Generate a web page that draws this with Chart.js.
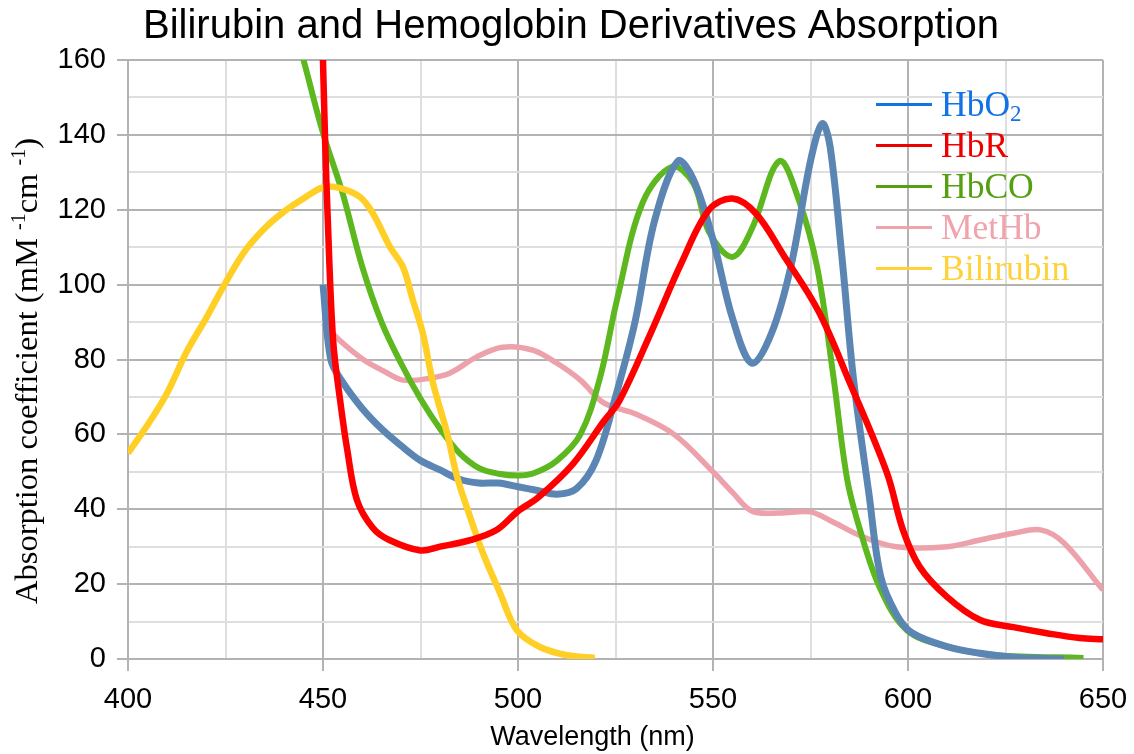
<!DOCTYPE html>
<html>
<head>
<meta charset="utf-8">
<script src="https://cdn.jsdelivr.net/npm/chart.js@4.4.1/dist/chart.umd.min.js"></script>
<style>
  html, body { margin: 0; padding: 0; background: #ffffff; }
  #wrap { position: relative; width: 1134px; height: 754px; }
  #legend { position: absolute; left: 876px; top: 84px; font-family: "Liberation Serif", "Times New Roman", serif; font-size: 35.5px; line-height: 41px; }
  #legend .row { display: flex; align-items: center; height: 41px; white-space: nowrap; }
  #legend .ln { width: 56px; height: 3px; margin-right: 9px; flex: none; }
  #legend sub { font-size: 23px; vertical-align: -5px; line-height: 0; }
</style>
</head>
<body>
<div id="wrap">
  <canvas id="c" width="1134" height="754"></canvas>
  <div id="legend">
    <div class="row" style="color:#1273e6"><span class="ln" style="background:#1273e6"></span><span>HbO<sub>2</sub></span></div>
    <div class="row" style="color:#ee0000"><span class="ln" style="background:#ee0000"></span><span>HbR</span></div>
    <div class="row" style="color:#55a011"><span class="ln" style="background:#55a011"></span><span>HbCO</span></div>
    <div class="row" style="color:#f0a3ac"><span class="ln" style="background:#f0a3ac"></span><span>MetHb</span></div>
    <div class="row" style="color:#ffd23a"><span class="ln" style="background:#ffd23a"></span><span>Bilirubin</span></div>
  </div>
</div>
<script>
// ---- Data (wavelength in nm, absorption coefficient in mM^-1 cm^-1) ----
const hbo2Wl  = [450, 452, 455, 460, 465, 470, 475, 480, 485, 490, 495, 500, 505, 510, 515, 520, 525, 530, 535, 541, 545, 550, 555, 560, 565, 570, 575, 578, 580, 583, 586, 590, 593, 597, 601, 610, 618, 627, 640];
const hbo2Abs = [100, 80, 74, 67, 61.5, 57, 53, 50.5, 48, 47, 47, 46, 45, 44, 45.5, 53, 70, 90, 117, 133, 128, 112, 91, 79, 87, 105, 133, 143, 137, 108, 75, 44, 22, 12, 7, 3.3, 1.6, 0.5, 0];

const hbrWl  = [449.8, 450.5, 451.2, 452.6, 454.4, 456.2, 458.7, 462.8, 467, 475, 480, 488, 494.6, 500, 505, 514, 522, 526, 534, 542, 549, 555, 561, 568, 577, 585, 594.6, 598.7, 603, 610, 618.5, 627, 635.6, 644, 650];
const hbrAbs = [168, 140, 118, 85, 69, 56, 42.5, 35, 31.8, 29, 30, 31.8, 34.5, 39.5, 43, 52, 63.5, 69, 87, 106, 120, 123, 119, 108, 93, 74, 49.7, 34.5, 24.6, 16.6, 10.4, 8.5, 6.9, 5.6, 5.3];

const hbcoWl  = [443, 445, 450, 455, 460, 465, 470, 475, 480, 485, 490, 495, 500, 504, 510, 516, 521, 525.4, 532, 539.5, 545, 549, 555, 560, 567, 572, 576.7, 580.8, 584.4, 587.7, 592.8, 599.7, 610, 622.8, 645];
const hbcoAbs = [167, 160, 140.5, 124.5, 105, 90, 79, 69.5, 61.5, 55, 51, 49.5, 49, 49.6, 53, 60, 75, 96, 122, 131.5, 127, 114, 107.4, 115, 133, 122.6, 104.7, 76, 48, 34.5, 19, 7.7, 3.3, 1, 0.3];

const methbWl  = [450, 454.4, 460.3, 465.4, 470.5, 477.4, 482.6, 489.4, 496, 503.8, 510, 516, 522, 530, 540, 550, 555, 560, 567, 575, 580, 588.5, 597, 610, 618.5, 627, 634, 640, 650];
const methbAbs = [89.7, 85, 80, 77, 74.5, 75, 76.4, 80.7, 83.3, 82.5, 79, 74.5, 68.4, 65.5, 60, 50, 44.5, 39.5, 39, 39.3, 37, 32.6, 30, 30, 31.8, 33.6, 34.5, 31, 18.4];

const biliWl  = [400, 405, 410, 415, 420, 425, 430, 435, 440, 445, 450, 454.4, 459.5, 462.8, 467.2, 470.5, 473, 475.6, 478.2, 481.8, 484.4, 487.7, 491, 495.4, 499.7, 505.6, 512.6, 519.7];
const biliAbs = [55, 62.5, 71, 82, 91, 100.5, 109, 115, 119.5, 123, 126, 125.8, 123.4, 119, 110, 104.7, 96, 87, 73.7, 60.4, 48.6, 38, 28.3, 17.6, 7.7, 3.2, 1, 0.3];

const xTickLabels = [400, 450, 500, 550, 600, 650];
const yTickLabels = [0, 20, 40, 60, 80, 100, 120, 140, 160];

const chartTitle = 'Bilirubin and Hemoglobin Derivatives Absorption';
const xTitle = 'Wavelength (nm)';
const yTitleParts = [
  { t: 'Absorption coefficient (mM ', sup: false },
  { t: '-1', sup: true },
  { t: 'cm ', sup: false },
  { t: '-1', sup: true },
  { t: ')', sup: false }
];

const toPts = (xs, ys) => xs.map((x, i) => ({ x: x, y: ys[i] }));

const mk = (label, xs, ys, color, w) => ({
  label: label,
  data: toPts(xs, ys),
  borderColor: color,
  backgroundColor: color,
  borderWidth: w,
  pointRadius: 0,
  fill: false,
  tension: 0.35,
  borderCapStyle: 'butt',
  borderJoinStyle: 'round'
});

// first dataset is drawn on top
const datasets = [
  mk('HbR', hbrWl, hbrAbs, '#ff0000', 6.5),
  mk('Bilirubin', biliWl, biliAbs, '#ffcf26', 6.5),
  mk('HbO2', hbo2Wl, hbo2Abs, '#5b86b4', 7),
  mk('HbCO', hbcoWl, hbcoAbs, '#5db71e', 6),
  mk('MetHb', methbWl, methbAbs, '#eca1ab', 5.5)
];

const MAJOR = '#b3b3b3', MINOR = '#dedede';

let yTitlePartsWidths = [];
const textPlugin = {
  id: 'texts',
  afterDraw(chart) {
    const ctx = chart.ctx;
    const a = chart.chartArea;
    ctx.save();
    ctx.fillStyle = '#000';
    // chart title
    ctx.font = '40px "Liberation Sans", Arial, sans-serif';
    ctx.textAlign = 'center';
    ctx.textBaseline = 'alphabetic';
    ctx.fillText(chartTitle, 571, 38);
    // x axis title
    ctx.font = '27px "Liberation Sans", Arial, sans-serif';
    ctx.fillText(xTitle, (a.left + a.right) / 2 - 23, 745);
    // y axis title (rotated, with superscripts)
    const mainF = '32.5px "Liberation Serif", "Times New Roman", serif';
    const supF = '20px "Liberation Serif", "Times New Roman", serif';
    let total = 0;
    yTitlePartsWidths = yTitleParts.map(p => {
      ctx.font = p.sup ? supF : mainF;
      const w = ctx.measureText(p.t).width;
      total += w;
      return w;
    });
    ctx.translate(37, 371);
    ctx.rotate(-Math.PI / 2);
    ctx.textAlign = 'left';
    let x = -total / 2;
    yTitleParts.forEach((p, i) => {
      ctx.font = p.sup ? supF : mainF;
      ctx.fillText(p.t, x, p.sup ? -12 : 0);
      x += yTitlePartsWidths[i];
    });
    ctx.restore();
  }
};

new Chart(document.getElementById('c'), {
  type: 'line',
  data: { datasets: datasets },
  plugins: [textPlugin],
  options: {
    responsive: false,
    animation: false,
    devicePixelRatio: 1,
    layout: { padding: { left: 0, right: 31, top: 60, bottom: 0 } },
    plugins: {
      legend: { display: false },
      tooltip: { enabled: false },
      title: { display: false }
    },
    scales: {
      x: {
        type: 'linear',
        min: 400, max: 650,
        afterFit(scale) { scale.height = 95; scale.paddingLeft = 0; scale.paddingRight = 0; },
        afterBuildTicks(scale) {
          const t = [];
          for (let v = 400; v <= 650; v += 25) t.push({ value: v });
          scale.ticks = t;
        },
        ticks: {
          autoSkip: false,
          maxRotation: 0,
          color: '#000',
          padding: 12,
          font: { family: '"Liberation Sans", Arial, sans-serif', size: 29 },
          callback: (v) => xTickLabels.includes(v) ? String(v) : ''
        },
        grid: {
          color: (c) => (c.tick && c.tick.value % 50 === 0) ? MAJOR : MINOR,
          tickColor: (c) => (c.tick && c.tick.value % 50 === 0) ? MAJOR : 'rgba(0,0,0,0)',
          lineWidth: 2,
          tickLength: 12
        },
        border: { color: MAJOR, width: 2 },
        title: { display: false }
      },
      y: {
        type: 'linear',
        min: 0, max: 160,
        afterFit(scale) { scale.width = 128; scale.paddingTop = 0; scale.paddingBottom = 0; },
        afterBuildTicks(scale) {
          const t = [];
          for (let v = 0; v <= 160; v += 10) t.push({ value: v });
          scale.ticks = t;
        },
        ticks: {
          autoSkip: false,
          color: '#000',
          padding: 11,
          font: { family: '"Liberation Sans", Arial, sans-serif', size: 29 },
          callback: (v) => yTickLabels.includes(v) ? String(v) : ''
        },
        grid: {
          color: (c) => (c.tick && c.tick.value % 20 === 0) ? MAJOR : MINOR,
          tickColor: (c) => (c.tick && c.tick.value % 20 === 0) ? MAJOR : 'rgba(0,0,0,0)',
          lineWidth: 2,
          tickLength: 11
        },
        border: { color: MAJOR, width: 2 },
        title: { display: false }
      }
    }
  }
});
</script>
</body>
</html>
